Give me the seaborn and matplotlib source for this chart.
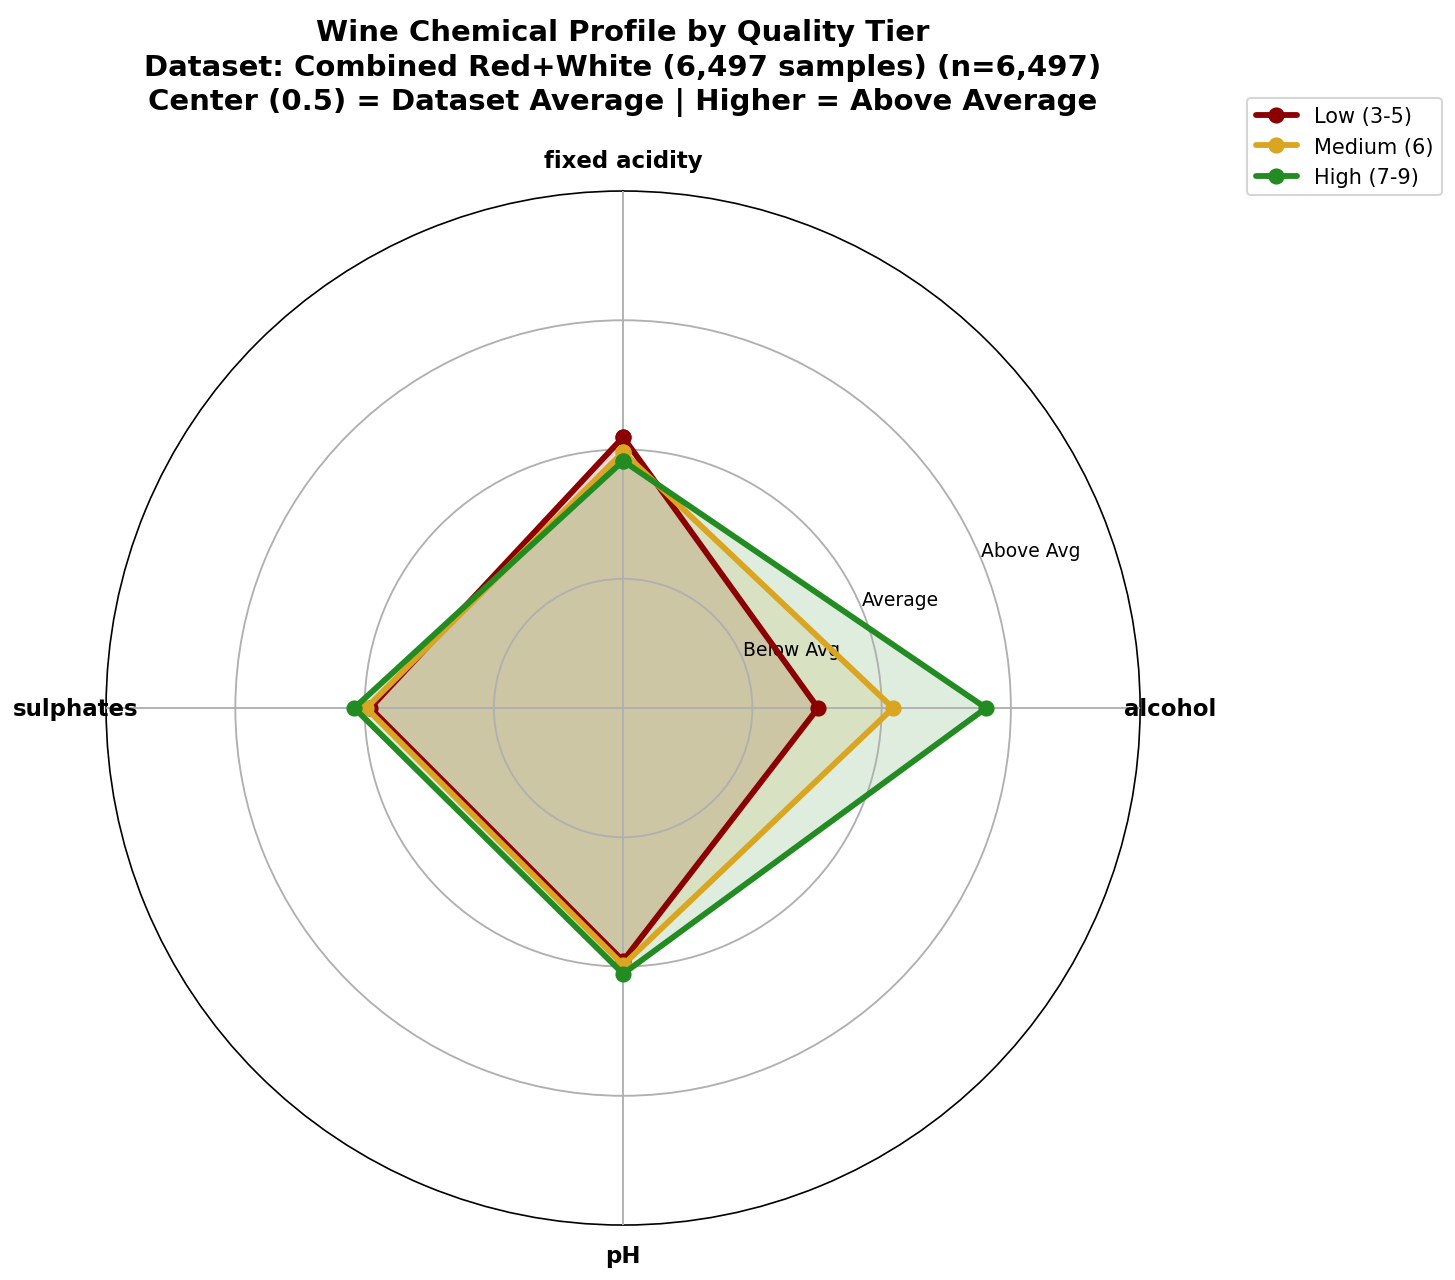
import numpy as np
import matplotlib
matplotlib.use("Agg")
import matplotlib.pyplot as plt
import seaborn as sns

sns.set_style("white", {"text.color": "black", "xtick.color": "black",
                        "ytick.color": "black", "axes.edgecolor": "black",
                        "axes.labelcolor": "black"})
plt.rcParams['font.family'] = ['DejaVu Sans']

features = ["fixed acidity", "alcohol", "pH", "sulphates"]
tiers = ["Low (3-5)", "Medium (6)", "High (7-9)"]
low_vals = [0.524, 0.377, 0.489, 0.489]
medium_vals = [0.495, 0.522, 0.497, 0.497]
high_vals = [0.478, 0.702, 0.514, 0.520]
tier_colors = ["#8B0000", "#DAA520", "#228B22"]
r_ticks = [0.25, 0.5, 0.75]
r_tick_labels = ["Below Avg", "Average", "Above Avg"]

angles = np.linspace(0, 2 * np.pi, len(features), endpoint=False).tolist()
angles_closed = angles + [2 * np.pi]

fig = plt.figure(figsize=(9.7, 8.54), dpi=150)
ax = fig.add_axes([0.0729, 0.0429, 0.7107, 0.8072], polar=True)
ax.set_theta_offset(np.pi / 2)
ax.set_theta_direction(-1)
ax.set_axisbelow(False)

# fills first (under grid), lines on top
for vals, col in zip([low_vals, medium_vals, high_vals], tier_colors):
    v = vals + vals[:1]
    ax.fill(angles_closed, v, color=col, alpha=0.15, zorder=1)

for name, vals, col in zip(tiers, [low_vals, medium_vals, high_vals], tier_colors):
    v = vals + vals[:1]
    sns.lineplot(x=angles_closed, y=v, ax=ax, sort=False, estimator=None,
                 color=col, linewidth=2.8, marker="o", markersize=7,
                 markeredgecolor=col, label=name, zorder=3)

ax.set_ylim(0, 1)
ax.set_yticks(r_ticks)
ax.set_yticklabels(r_tick_labels, fontsize=9)
ax.set_rlabel_position(67.5)
ax.set_xticks(angles)
ax.set_xticklabels(features, fontsize=11, fontweight="bold")
ax.tick_params(axis="x", pad=4)
ax.grid(True, color="#b0b0b0", linewidth=0.9)
ax.spines["polar"].set_linewidth(0.8)

fig.suptitle("Wine Chemical Profile by Quality Tier\n"
             "Dataset: Combined Red+White (6,497 samples) (n=6,497)\n"
             "Center (0.5) = Dataset Average | Higher = Above Average",
             fontsize=14, fontweight="bold", x=0.428, y=0.985, linespacing=1.3)

ax.get_legend().remove()
handles, labels = ax.get_legend_handles_labels()
fig.legend(handles, labels, loc="upper right", bbox_to_anchor=(0.998, 0.931), fontsize=10)

fig.savefig("out.png", dpi=150)
